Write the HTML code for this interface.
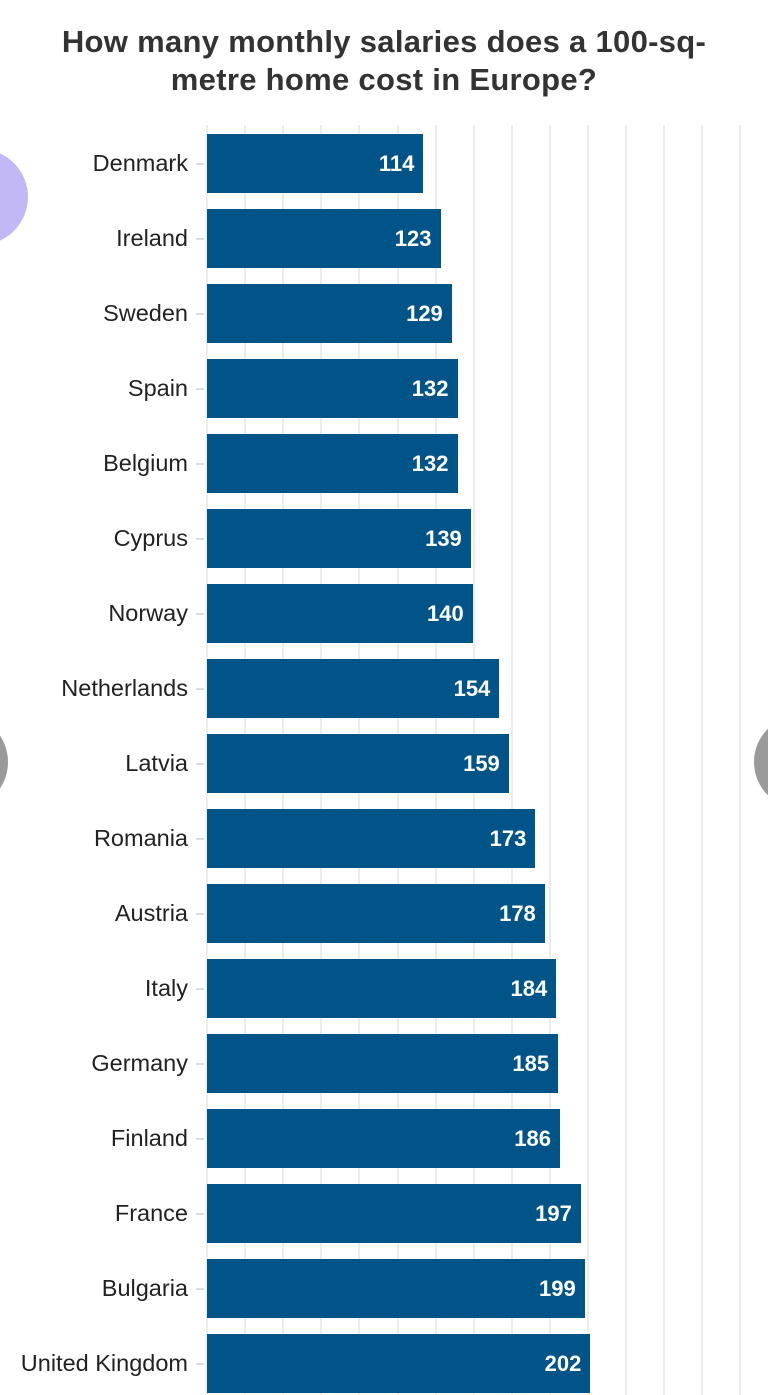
<!DOCTYPE html>
<html><head><meta charset="utf-8"><style>
body{margin:0;width:768px;height:1395px;background:#fff;overflow:hidden;position:relative;font-family:"Liberation Sans",sans-serif}
.t{position:absolute;left:0;width:768px;text-align:center;font-weight:bold;font-size:31px;color:#333;line-height:38px;top:23px;letter-spacing:0.3px}
.g{position:absolute;top:125px;height:1270px;width:2px;background:#ececec}
.b{position:absolute;left:207px;height:59px;background:#005487;color:#fff;font-weight:bold;font-size:22px;text-align:right;box-sizing:border-box;padding-right:9px;line-height:59px}
.l{position:absolute;right:580px;font-size:23.5px;color:#222;line-height:59px;white-space:nowrap}
.k{position:absolute;left:196px;width:8px;height:2px;background:#ddd}
.c{position:absolute;border-radius:50%}
</style></head><body>
<div class="t">How many monthly salaries does a 100-sq-<br>metre home cost in Europe?</div>
<div id="grid"></div>
<div id="bars"></div>
<div class="c" style="left:-68px;top:149px;width:96px;height:96px;background:#c2b8f5"></div>
<div class="c" style="left:-80px;top:716px;width:88px;height:92px;background:#9a9a9a"></div>
<div class="c" style="left:754px;top:716px;width:90px;height:92px;background:#9a9a9a"></div>
<script>
var g='';for(var i=0;i<15;i++){g+='<div class="g" style="left:'+(206+i*38.1)+'px"></div>';}
document.getElementById('grid').innerHTML=g;
var d=[["Denmark",114],["Ireland",123],["Sweden",129],["Spain",132],["Belgium",132],["Cyprus",139],["Norway",140],["Netherlands",154],["Latvia",159],["Romania",173],["Austria",178],["Italy",184],["Germany",185],["Finland",186],["France",197],["Bulgaria",199],["United Kingdom",202]];
var h='';d.forEach(function(r,i){var y=134+i*75;h+='<div class="l" style="top:'+y+'px">'+r[0]+'</div><div class="k" style="top:'+(y+29)+'px"></div><div class="b" style="top:'+y+'px;width:'+(r[1]*1.898).toFixed(1)+'px">'+r[1]+'</div>';});
document.getElementById('bars').innerHTML=h;
</script>
</body></html>
